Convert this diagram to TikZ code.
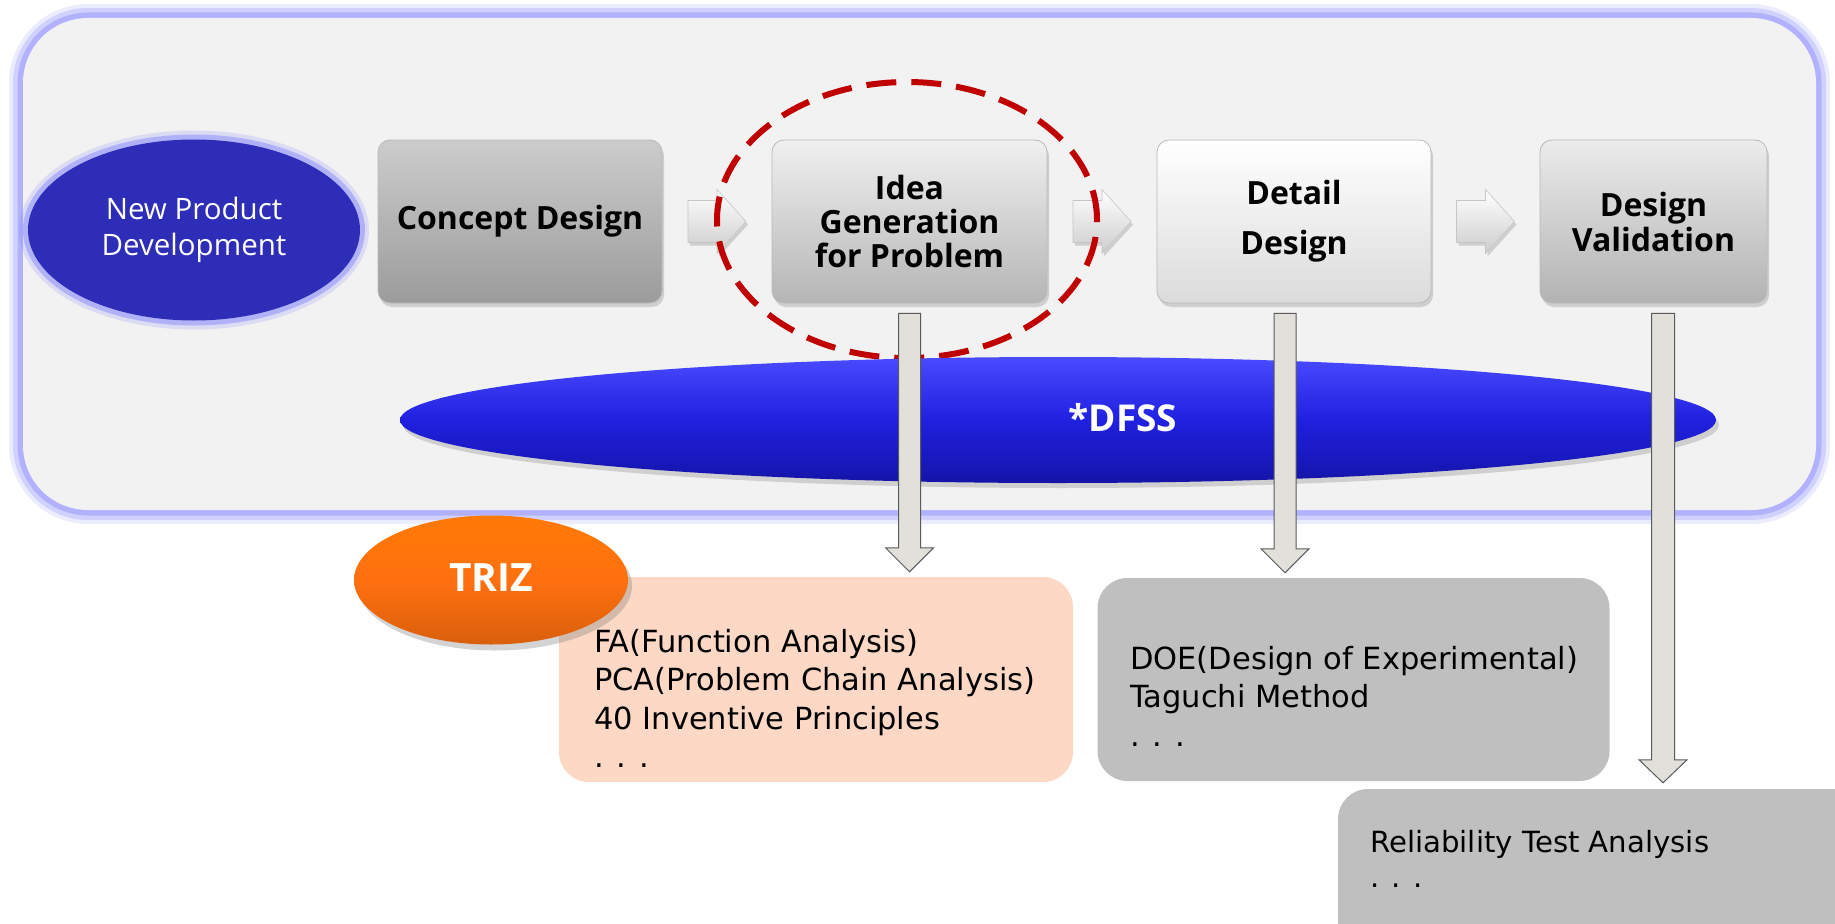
\documentclass[tikz,border=0pt]{standalone}
\usepackage{fontspec}
\setmainfont{Open Sans}
\newfontfamily\listfont{DejaVu Sans}
\usetikzlibrary{shapes.geometric,shadows,calc}
\definecolor{framebg}{HTML}{F2F2F2}
\definecolor{glow}{HTML}{8080FF}
\definecolor{npdblue}{HTML}{2E2DB8}
\definecolor{dfssblue}{HTML}{2020E0}
\definecolor{dfsstop}{HTML}{4A4AFF}
\definecolor{dfssbot}{HTML}{1414A8}
\definecolor{ringred}{HTML}{C00000}
\definecolor{trizorange}{HTML}{FF700F}
\definecolor{peach}{HTML}{FDD8C5}
\definecolor{midgray}{HTML}{BFBFBF}
\definecolor{shaftfill}{HTML}{E2E0DB}
\definecolor{shaftline}{HTML}{5A5A5A}
\begin{document}
\begin{tikzpicture}[x=1pt,y=-1pt,
  frame/.style={rectangle, rounded corners=65pt, minimum width=1793pt, minimum height=492pt, fill=framebg,
    preaction={draw=glow, line width=28pt, opacity=0.15},
    preaction={draw=glow, line width=20pt, opacity=0.25},
    preaction={draw=glow, line width=11pt, opacity=0.4}},
  npdell/.style={ellipse, minimum width=332pt, minimum height=181pt, fill=npdblue, text=white,
    align=center, font=\fontsize{29.5}{36}\selectfont,
    preaction={draw=glow, line width=18pt, opacity=0.2},
    preaction={draw=glow, line width=10pt, opacity=0.45}},
  stage/.style={rectangle, rounded corners=12pt, draw=gray!55, line width=0.8pt, minimum height=163pt,
    align=center, font=\fontsize{32}{34}\selectfont\bfseries,
    drop shadow={shadow xshift=2pt, shadow yshift=-4pt, opacity=0.3}},
  smallarrow/.style={top color=white, bottom color=gray!40, draw=gray!45, line width=0.6pt,
    drop shadow={shadow xshift=2pt, shadow yshift=-3pt, opacity=0.3}},
  ring/.style={ellipse, draw=ringred, line width=6pt, dash pattern=on 30pt off 15pt,
    minimum width=380pt, minimum height=276pt},
  dfssell/.style={ellipse, minimum width=1316pt, minimum height=126pt,
    top color=dfsstop, bottom color=dfssbot, middle color=dfssblue,
    drop shadow={shadow xshift=3pt, shadow yshift=-5pt, opacity=0.3}},
  bigtext/.style={text=white, font=\fontsize{37}{40}\selectfont\bfseries},
  vshaft/.style={fill=shaftfill, draw=shaftline, line width=1pt},
  trizell/.style={ellipse, minimum width=274pt, minimum height=129pt,
    top color=orange!60!trizorange, bottom color=trizorange!85!black, middle color=trizorange,
    drop shadow={shadow xshift=4pt, shadow yshift=-6pt, opacity=0.35}},
  listbox/.style={rectangle, rounded corners=30pt},
  listtext/.style={align=left, inner sep=0pt, anchor=north west, font=\listfont\fontsize{30.5}{38.5}\selectfont}
]
\useasboundingbox (0,0) rectangle (1835,923);

% frame
\node[frame] (frame) at (919.5,264) {};

% first row
\node[npdell] (npd) at (194,230) {New Product\\Development};
\node[stage, minimum width=284pt, top color=gray!40, bottom color=gray!78] (concept) at (520,221.5) {Concept Design};
\node[stage, minimum width=275pt, top color=gray!12, bottom color=gray!58] (idea) at (909.5,221.5) {Idea\\Generation\\for Problem};
\node[stage, minimum width=274pt, top color=white, bottom color=gray!28, font=\fontsize{32}{50}\selectfont\bfseries] (detail) at (1294,221.5) {Detail\\Design};
\node[stage, minimum width=227pt, top color=gray!15, bottom color=gray!60, font=\fontsize{32}{35}\selectfont\bfseries] (valid) at (1653.5,221.5) {Design\\Validation};

% small block arrows between stages
\tikzset{pics/blockarrow/.style={code={
  \draw[smallarrow] (-29,-21) -- (0,-21) -- (0,-32) -- (29,0) -- (0,32) -- (0,21) -- (-29,21) -- cycle;}}}
\pic at ($(concept.east)!0.5!(idea.west)$) {blockarrow};
\pic at ($(idea.east)!0.5!(detail.west)$) {blockarrow};
\pic at ($(detail.east)!0.5!(valid.west)$) {blockarrow};

% red dashed ring
\node[ring] (ring) at (907,220) {};

% DFSS
\node[dfssell] (dfss) at (1058,420) {};
\node[bigtext] (dfsslabel) at (1123,418) {*DFSS};

% lower boxes
\node[listbox, fill=peach, minimum width=514pt, minimum height=205pt] (fa) at (816,679.5) {};
\node[listbox, fill=midgray, minimum width=512pt, minimum height=203pt] (doe) at (1353.5,679.5) {};
\node[listbox, fill=midgray, minimum width=562pt, minimum height=212pt] (rel) at (1619,895) {};

% vertical arrows
\coordinate (ta) at ([yshift=-10pt]idea.south);
\coordinate (ha) at (ta |- fa.north);
\coordinate (tb) at ([xshift=-9pt,yshift=-10pt]detail.south);
\coordinate (hb) at (tb |- doe.north);
\coordinate (tc) at ([xshift=9.5pt,yshift=-10pt]valid.south);
\coordinate (hc) at (tc |- rel.north);
\draw[vshaft] ([xshift=-11pt]ta) -- ([xshift=-11pt,yshift=29pt]ha) -- ([xshift=-24pt,yshift=29pt]ha) -- ([yshift=5pt]ha)
  -- ([xshift=24pt,yshift=29pt]ha) -- ([xshift=11pt,yshift=29pt]ha) -- ([xshift=11pt]ta) -- cycle;
\draw[vshaft] ([xshift=-11pt]tb) -- ([xshift=-11pt,yshift=29pt]hb) -- ([xshift=-24pt,yshift=29pt]hb) -- ([yshift=5pt]hb)
  -- ([xshift=24pt,yshift=29pt]hb) -- ([xshift=11pt,yshift=29pt]hb) -- ([xshift=11pt]tb) -- cycle;
\draw[vshaft] ([xshift=-11.5pt]tc) -- ([xshift=-11.5pt,yshift=29pt]hc) -- ([xshift=-24pt,yshift=29pt]hc) -- ([yshift=6pt]hc)
  -- ([xshift=24pt,yshift=29pt]hc) -- ([xshift=11.5pt,yshift=29pt]hc) -- ([xshift=11.5pt]tc) -- cycle;

% TRIZ
\node[trizell] (triz) at (491,580) {};
\node[bigtext, font=\fontsize{39}{42}\selectfont\bfseries] (trizlabel) at (491,578) {TRIZ};

% list texts
\node[listtext] (fatext) at (594,629) {FA(Function Analysis)\\PCA(Problem Chain Analysis)\\40 Inventive Principles\\. . .};
\node[listtext] (doetext) at (1130,646) {DOE(Design of Experimental)\\Taguchi Method\\. . .};
\node[listtext, font=\listfont\fontsize{29.2}{35}\selectfont] (reltext) at (1370,830) {Reliability Test Analysis\\. . .};
\end{tikzpicture}
\end{document}
